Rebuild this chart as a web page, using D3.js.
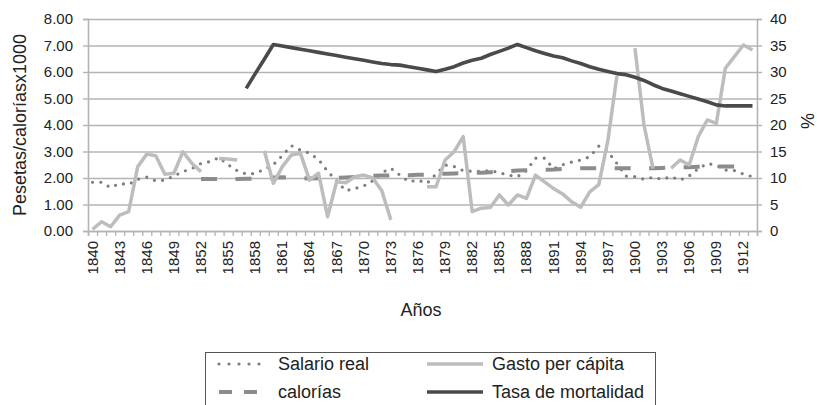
<!DOCTYPE html>
<html><head><meta charset="utf-8">
<script src="https://cdn.jsdelivr.net/npm/d3@7"></script>
<style>
html,body{margin:0;padding:0;background:#fff;}
svg{display:block;font-family:"Liberation Sans",Arial,Helvetica,sans-serif;}
</style></head><body>
<svg id="chart" width="817" height="405"></svg>
<script>
const years = [1840,1841,1842,1843,1844,1845,1846,1847,1848,1849,1850,1851,1852,1853,1854,1855,1856,1857,1858,1859,
1860,1861,1862,1863,1864,1865,1866,1867,1868,1869,1870,1871,1872,1873,1874,1875,1876,1877,1878,1879,
1880,1881,1882,1883,1884,1885,1886,1887,1888,1889,1890,1891,1892,1893,1894,1895,1896,1897,1898,1899,
1900,1901,1902,1903,1904,1905,1906,1907,1908,1909,1910,1911,1912,1913];
const tickYears = [1840,1843,1846,1849,1852,1855,1858,1861,1864,1867,1870,1873,1876,1879,1882,1885,1888,1891,1894,1897,1900,1903,1906,1909,1912];
const leftTicks = [0,1,2,3,4,5,6,7,8];
const rightTicks = [0,5,10,15,20,25,30,35,40];

const salarioReal = [1.84,1.84,1.64,1.79,1.76,1.95,2.03,1.89,1.92,2.08,2.24,2.36,2.55,2.62,2.77,2.50,2.28,2.15,2.17,2.33,
2.50,2.85,3.22,3.05,2.94,2.70,2.25,1.90,1.52,1.60,1.70,1.90,2.20,2.37,2.11,1.86,1.92,1.80,2.15,2.49,
2.43,2.28,2.25,2.25,2.28,2.20,2.11,2.05,2.28,2.75,2.75,2.35,2.50,2.60,2.68,2.80,3.20,3.00,2.55,2.07,
2.05,1.95,2.03,1.95,2.05,1.92,2.08,2.35,2.55,2.48,2.30,2.28,2.15,2.05];

const calorias = [null,null,null,null,null,null,null,null,null,null,null,null,1.96,1.96,1.96,1.96,1.96,1.97,1.98,2.00,
2.02,2.03,2.00,2.00,1.98,1.99,2.00,2.00,2.02,2.04,2.06,2.08,2.09,2.10,2.10,2.10,2.12,2.13,2.15,2.16,
2.17,2.18,2.19,2.20,2.22,2.24,2.26,2.28,2.29,2.30,2.31,2.32,2.34,2.36,2.37,2.37,2.37,2.37,2.37,2.37,
2.37,2.37,2.37,2.38,2.39,2.40,2.41,2.42,2.43,2.43,2.43,2.43,2.43,null];

const gastoPerCapita = [0.06,0.35,0.16,0.60,0.73,2.43,2.90,2.84,2.14,2.18,2.99,2.55,2.24,null,2.74,2.72,2.68,null,null,3.03,
1.80,2.43,2.87,2.93,1.92,2.18,0.54,1.86,1.82,2.05,2.11,2.00,1.52,0.42,null,null,null,1.67,1.67,2.68,
2.99,3.56,0.73,0.86,0.89,1.36,0.98,1.36,1.23,2.11,1.85,1.60,1.40,1.10,0.90,1.48,1.75,3.40,5.85,null,
6.90,4.00,2.35,null,2.37,2.68,2.49,3.56,4.19,4.06,6.14,6.58,7.02,6.83];

const tasaMortalidad = [null,null,null,null,null,null,null,null,null,null,null,null,null,null,null,null,null,26.9,29.7,32.4,
35.2,34.9,34.6,34.3,34.0,33.7,33.4,33.1,32.8,32.5,32.2,31.9,31.6,31.4,31.3,31.0,30.7,30.4,30.1,30.5,
31.0,31.7,32.2,32.6,33.3,33.9,34.5,35.2,34.6,34.0,33.5,33.0,32.7,32.1,31.6,31.0,30.5,30.1,29.7,29.5,
29.0,28.4,27.6,26.9,26.4,25.9,25.4,24.9,24.4,23.8,23.6,23.6,23.6,23.6];

const svg = d3.select("#chart");
const L = 88, R = 757, T = 19, B = 231;
const x = d3.scaleBand().domain(years).range([L, R]).padding(0);
const xi = d3.scaleLinear().domain([0, years.length]).range([L, R]);
const yL = d3.scaleLinear().domain([0, 8]).range([B, T]);
const yR = d3.scaleLinear().domain([0, 40]).range([B, T]);
const cx = d => x(d) + x.bandwidth() / 2;

const gridCol = "#b4b4b4";
// gridlines
svg.append("g").attr("transform", `translate(${L},0)`)
  .call(d3.axisLeft(yL).tickValues(leftTicks).tickSize(-(R - L)).tickFormat(""))
  .call(g => g.select(".domain").remove())
  .selectAll("line").attr("stroke", gridCol).attr("stroke-width", 1.4);

// left axis
const gl = svg.append("g").attr("transform", `translate(${L},0)`)
  .call(d3.axisLeft(yL).tickValues(leftTicks).tickSize(5).tickPadding(10).tickFormat(d3.format(".2f")));
gl.select(".domain").attr("stroke", gridCol).attr("stroke-width", 1.6);
gl.selectAll("line").attr("stroke", gridCol).attr("stroke-width", 1.4);
gl.selectAll("text").attr("font-size", 15).attr("fill", "#222").attr("font-family", null);

// right axis
const gr = svg.append("g").attr("transform", `translate(${R},0)`)
  .call(d3.axisRight(yR).tickValues(rightTicks).tickSize(5).tickPadding(8));
gr.select(".domain").attr("stroke", gridCol).attr("stroke-width", 1.6);
gr.selectAll("line").attr("stroke", gridCol).attr("stroke-width", 1.4);
gr.selectAll("text").attr("font-size", 15).attr("fill", "#222").attr("font-family", null);

// bottom axis ticks (between categories)
const gb = svg.append("g").attr("transform", `translate(0,${B})`)
  .call(d3.axisBottom(xi).tickValues(d3.range(years.length + 1)).tickSize(5).tickFormat(""));
gb.select(".domain").attr("stroke", gridCol).attr("stroke-width", 1.6);
gb.selectAll("line").attr("stroke", gridCol).attr("stroke-width", 1.3);

// bottom labels
const gbl = svg.append("g").attr("transform", `translate(0,${B})`)
  .call(d3.axisBottom(x).tickValues(tickYears).tickSize(0).tickPadding(0));
gbl.select(".domain").remove();
gbl.selectAll("text").attr("font-size", 15).attr("fill", "#222").attr("font-family", null)
  .attr("text-anchor", "end").attr("dy", null).attr("y", 0)
  .attr("transform", "translate(5,10) rotate(-90)");

// series
const lineL = d3.line().defined(d => d.v != null).x(d => cx(d.yr)).y(d => yL(d.v));
const lineR = d3.line().defined(d => d.v != null).x(d => cx(d.yr)).y(d => yR(d.v));
const pack = arr => years.map((yr, i) => ({yr, v: arr[i]}));

svg.append("path").datum(pack(salarioReal)).attr("d", lineL)
  .attr("fill", "none").attr("stroke", "#7d7d7d").attr("stroke-width", 3.2)
  .attr("stroke-linecap", "round").attr("stroke-dasharray", "0,8.3");
svg.append("path").datum(pack(calorias)).attr("d", lineL)
  .attr("fill", "none").attr("stroke", "#8c8c8c").attr("stroke-width", 4)
  .attr("stroke-dasharray", "16,18.5");
svg.append("path").datum(pack(gastoPerCapita)).attr("d", lineL)
  .attr("fill", "none").attr("stroke", "#bdbdbd").attr("stroke-width", 3.5)
  .attr("stroke-linejoin", "round");
svg.append("path").datum(pack(tasaMortalidad)).attr("d", lineR)
  .attr("fill", "none").attr("stroke", "#4a4a4a").attr("stroke-width", 3.6)
  .attr("stroke-linejoin", "round");

// titles
svg.append("text").attr("transform", "translate(26,125) rotate(-90)")
  .attr("text-anchor", "middle").attr("font-size", 18).attr("fill", "#222").text("Pesetas/caloríasx1000");
svg.append("text").attr("transform", "translate(814,121) rotate(-90)")
  .attr("text-anchor", "middle").attr("font-size", 18).attr("fill", "#222").text("%");
svg.append("text").attr("x", 421).attr("y", 316)
  .attr("text-anchor", "middle").attr("font-size", 18).attr("fill", "#222").text("Años");

// legend
const lg = svg.append("g");
lg.append("rect").attr("x", 205.5).attr("y", 352.5).attr("width", 450).attr("height", 70)
  .attr("fill", "#fff").attr("stroke", "#555").attr("stroke-width", 1);
const legendItems = [
  {name: "Salario real", col: 0, row: 0, stroke: "#7d7d7d", w: 3.2, dash: "0,10", cap: "round"},
  {name: "Gasto per cápita", col: 1, row: 0, stroke: "#bdbdbd", w: 3.5, dash: null, cap: "butt"},
  {name: "calorías", col: 0, row: 1, stroke: "#8c8c8c", w: 4, dash: "13,12", cap: "butt"},
  {name: "Tasa de mortalidad", col: 1, row: 1, stroke: "#4a4a4a", w: 3.6, dash: null, cap: "butt"}
];
legendItems.forEach(it => {
  const x0 = it.col === 0 ? 219 : 427;
  const x1 = it.col === 0 ? 268 : 483;
  const yy = it.row === 0 ? 364 : 392;
  lg.append("line").attr("x1", x0).attr("x2", x1).attr("y1", yy).attr("y2", yy)
    .attr("stroke", it.stroke).attr("stroke-width", it.w).attr("stroke-linecap", it.cap)
    .attr("stroke-dasharray", it.dash);
  lg.append("text").attr("x", it.col === 0 ? 278 : 492).attr("y", yy + 6)
    .attr("font-size", 18).attr("fill", "#222").text(it.name);
});
</script></body></html>
